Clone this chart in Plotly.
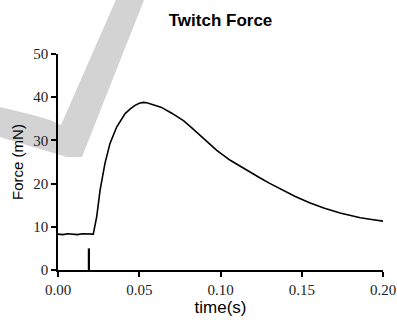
import plotly.graph_objects as go

# ---- data ----
time_s = [0.000, 0.003, 0.006, 0.009, 0.012, 0.015, 0.018, 0.0205, 0.0217,
          0.0238, 0.0259, 0.0289, 0.032, 0.0361, 0.0390, 0.0413, 0.0445, 0.0474,
          0.0500, 0.0525, 0.0546, 0.0567, 0.0600, 0.0634, 0.0700, 0.0772,
          0.0820, 0.0874, 0.0925, 0.0977, 0.1060, 0.1120, 0.1180, 0.1244,
          0.1300, 0.1367, 0.1460, 0.1552, 0.1640, 0.1736, 0.1800, 0.1860, 0.1930, 0.2000]
force_mN = [8.3, 8.2, 8.4, 8.3, 8.2, 8.4, 8.3, 8.2, 8.3,
            12.3, 18.5, 24.7, 29.3, 33.1, 34.9, 36.2, 37.3, 38.1,
            38.6, 38.8, 38.7, 38.5, 38.2, 37.7, 36.3, 34.6,
            33.0, 31.2, 29.5, 27.7, 25.4, 24.0, 22.7, 21.3,
            20.1, 18.8, 17.0, 15.5, 14.3, 13.2, 12.6, 12.1, 11.7, 11.3]
stim_time = [0.019, 0.019]
stim_level = [0, 5]

x_ticks = [0.00, 0.05, 0.10, 0.15, 0.20]
y_ticks = [0, 10, 20, 30, 40, 50]

# ---- layout geometry ----
W, H = 397, 320
ML, MR, MT, MB = 58, 14, 54, 50
PW, PH = W - ML - MR, H - MT - MB


def px(xp, yp):
    return (xp - ML) / PW, (H - MB - yp) / PH


# background watermark band (decorative)
band_px = [(118, -5), (146, -5), (82, 157), (67, 157), (33, 147), (0, 137), (-5, 136),
           (-5, 106), (0, 107), (33, 115), (50, 120), (61, 125)]
pts = [px(a, b) for a, b in band_px]
path = "M " + " L ".join(f"{a:.4f},{b:.4f}" for a, b in pts) + " Z"

SERIF = "Liberation Serif"
SANS = "Liberation Sans"

fig = go.Figure()
fig.add_trace(go.Scatter(x=time_s, y=force_mN, mode="lines",
                         line=dict(color="black", width=1.6),
                         showlegend=False, cliponaxis=False))
fig.add_trace(go.Scatter(x=stim_time, y=stim_level, mode="lines",
                         line=dict(color="black", width=2.2),
                         showlegend=False))

fig.add_shape(type="path", path=path, xref="paper", yref="paper",
              fillcolor="#d3d3d3", line=dict(width=0), layer="below")

fig.update_layout(
    width=W, height=H,
    margin=dict(l=ML, r=MR, t=MT, b=MB, autoexpand=False),
    paper_bgcolor="white", plot_bgcolor="rgba(0,0,0,0)",
    title=dict(text="<b>Twitch Force</b>", x=(ML + PW / 2) / W, xanchor="center",
               y=1 - 20 / H, yanchor="middle",
               font=dict(family=SANS, size=17, color="black")),
    xaxis=dict(range=[0, 0.2], tickvals=x_ticks, tickformat=".2f", automargin=False,
               showgrid=False, zeroline=False, showline=True, linecolor="black",
               linewidth=1.5, ticks="outside", ticklen=5, tickwidth=1.5,
               tickcolor="black",
               tickfont=dict(family=SERIF, size=15, color="#222"),
               title=dict(text="time(s)", standoff=4,
                          font=dict(family=SANS, size=17, color="black"))),
    yaxis=dict(range=[0, 50], tickvals=y_ticks, automargin=False,
               showgrid=False, zeroline=False, showline=True, linecolor="black",
               linewidth=1.5, ticks="outside", ticklen=5, tickwidth=1.5,
               tickcolor="black",
               tickfont=dict(family=SERIF, size=15, color="#222"),
               title=dict(text="Force (mN)", standoff=6,
                          font=dict(family=SANS, size=15, color="black"))),
)

fig.write_html("out.html", config={"displayModeBar": False},
               post_script="document.body.style.margin='0';document.body.style.overflow='hidden';")
